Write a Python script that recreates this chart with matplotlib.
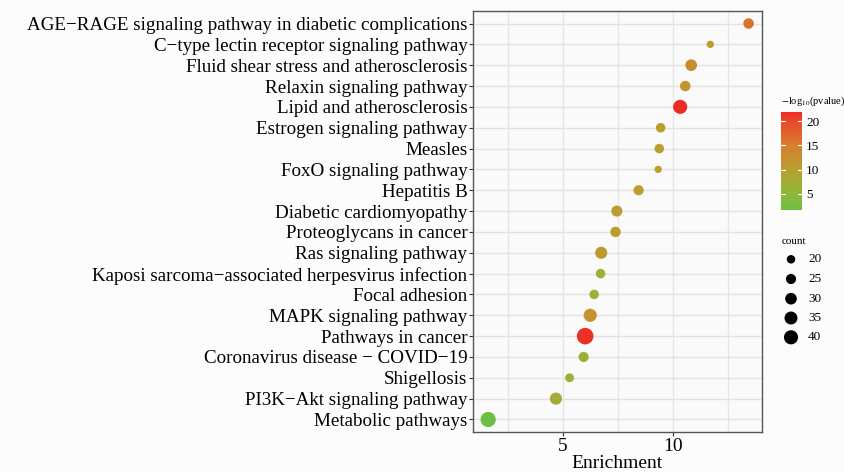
import matplotlib
matplotlib.use("Agg")
import matplotlib.pyplot as plt
import numpy as np
from matplotlib.colors import LinearSegmentedColormap, Normalize

pathways = [
    "AGE\u2212RAGE signaling pathway in diabetic complications",
    "C\u2212type lectin receptor signaling pathway",
    "Fluid shear stress and atherosclerosis",
    "Relaxin signaling pathway",
    "Lipid and atherosclerosis",
    "Estrogen signaling pathway",
    "Measles",
    "FoxO signaling pathway",
    "Hepatitis B",
    "Diabetic cardiomyopathy",
    "Proteoglycans in cancer",
    "Ras signaling pathway",
    "Kaposi sarcoma\u2212associated herpesvirus infection",
    "Focal adhesion",
    "MAPK signaling pathway",
    "Pathways in cancer",
    "Coronavirus disease \u2212 COVID\u221219",
    "Shigellosis",
    "PI3K\u2212Akt signaling pathway",
    "Metabolic pathways",
]
enrichment = [13.44, 11.7, 10.83, 10.56, 10.33, 9.44, 9.38, 9.33, 8.44, 7.45,
              7.39, 6.74, 6.71, 6.42, 6.24, 6.01, 5.94, 5.30, 4.68, 1.6]
neglog10p = [16.0, 11.0, 13.0, 11.5, 21.9, 10.0, 10.0, 10.0, 10.5, 10.5,
             10.5, 11.0, 7.0, 6.5, 12.0, 21.5, 7.0, 6.0, 7.5, 1.6]
count = [26, 17, 30, 26, 40, 23, 23, 17, 25, 28,
         26, 32, 23, 23, 36, 52, 25, 21, 32, 45]

legend_counts = [20, 25, 30, 35, 40]
cbar_ticks = [5, 10, 15, 20]

plt.rcParams['font.family'] = ['Liberation Serif', 'DejaVu Serif']
plt.rcParams['mathtext.fontset'] = 'stix'

def size_of(c):
    c = np.asarray(c, dtype=float)
    d = 1.06 * np.sqrt(64 + 5.65 * (c - 20))  # diameter in px
    return (d * 0.72) ** 2

cmap = LinearSegmentedColormap.from_list(
    "gr", [(0.0, "#6cbf42"), (0.17, "#8fb83a"), (0.41, "#b8a030"),
           (0.66, "#d67e2c"), (0.90, "#e84a28"), (1.0, "#ee2a25")])
norm = Normalize(vmin=1.6, vmax=21.95)

fig = plt.figure(figsize=(8.45, 4.72), dpi=100)
fig.patch.set_facecolor("#fcfcfc")
ax = fig.add_axes([473/845, 1-432/472, (762-473)/845, (432-11)/472])
ax.set_facecolor("#fafafa")

n = len(pathways)
ypos = np.arange(n)[::-1]
ax.scatter(enrichment, ypos, s=size_of(count), c=neglog10p, cmap=cmap, norm=norm,
           linewidths=0, zorder=3)

ax.set_yticks(ypos)
ax.set_yticklabels(pathways, fontsize=13.65)
ax.set_ylim(-0.6, n - 1 + 0.6)
ax.set_xlim(0.91, 14.05)
ax.set_xticks([5, 10])
ax.set_xticks([2.5, 7.5, 12.5], minor=True)
ax.tick_params(axis='x', labelsize=14, length=3, color="#333333", pad=1)
ax.tick_params(axis='y', length=3, color="#333333", pad=1)
ax.tick_params(axis='x', which='minor', length=0)
ax.grid(True, which='major', axis='y', color="#e8e0e0", linewidth=1.0, zorder=0)
ax.grid(True, which='both', axis='x', color="#e6e6e6", linewidth=1.0, zorder=0)
ax.set_axisbelow(True)
for sp in ax.spines.values():
    sp.set_color("#555555")
    sp.set_linewidth(1.0)
ax.set_xlabel("Enrichment", fontsize=14, labelpad=0)

# colorbar
cax = fig.add_axes([781/845, 1-210/472, 21/845, 98/472])
sm = matplotlib.cm.ScalarMappable(norm=norm, cmap=cmap)
cb = fig.colorbar(sm, cax=cax, ticks=cbar_ticks)
cb.outline.set_visible(False)
cax.tick_params(labelsize=9.5, length=0, pad=3)
for t in cbar_ticks:
    cax.plot([0, 0.2], [t, t], color="white", lw=0.8, transform=cax.get_yaxis_transform())
    cax.plot([0.8, 1.0], [t, t], color="white", lw=0.8, transform=cax.get_yaxis_transform())
fig.text(781/845, 1-101/472, r"$-$log$_{10}$(pvalue)", fontsize=7.5, va="center", ha="left")

# size legend
lax = fig.add_axes([775/845, 1-350/472, 60/845, 100/472])
lax.set_xlim(0, 60)
lax.set_ylim(350, 250)
lax.axis('off')
ly = [259.3, 279.0, 298.7, 318.0, 337.3]
lax.scatter([16]*len(legend_counts), ly, s=size_of(legend_counts), color="black", linewidths=0)
for yv, c in zip(ly, legend_counts):
    lax.text(33, yv, str(c), fontsize=9.5, va="center", ha="left")
fig.text(782/845, 1-241/472, "count", fontsize=8, va="center", ha="left")

fig.savefig("out.png", dpi=100, facecolor=fig.get_facecolor())
